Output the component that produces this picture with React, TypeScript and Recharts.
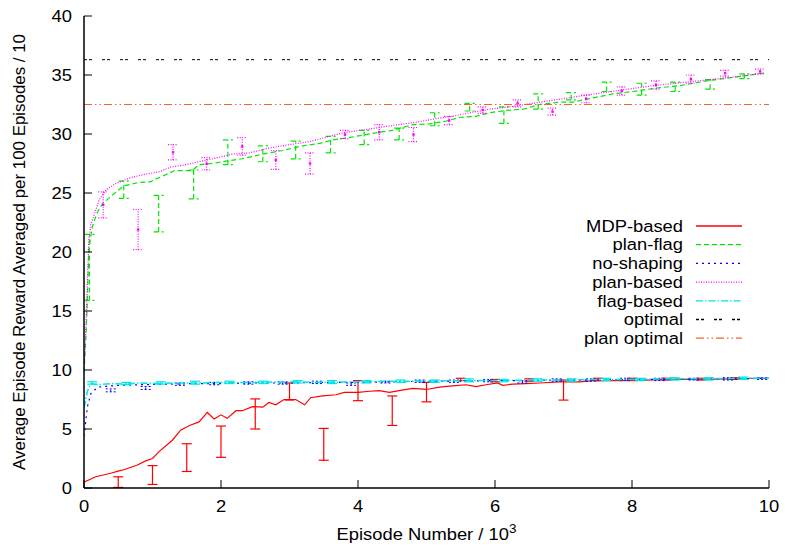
import {
  ComposedChart,
  Line,
  Scatter,
  ErrorBar,
  XAxis,
  YAxis,
  ReferenceLine,
  Label,
} from 'recharts'

// [episode / 10^3, reward]
const mdpBased = [
  [0, 0.5], [0.17, 0.95], [0.39, 1.25], [0.51, 1.45], [0.58, 1.55], [0.78, 1.95], [0.9, 2.3],
  [1.0, 2.5], [1.1, 3.1], [1.29, 4.05], [1.41, 4.9], [1.54, 5.3], [1.68, 5.6], [1.8, 6.4],
  [1.9, 5.85], [2.0, 6.2], [2.09, 5.9], [2.22, 6.55], [2.31, 6.55], [2.46, 6.9], [2.61, 6.85],
  [2.7, 7.25], [2.8, 7.05], [2.92, 7.5], [3.09, 7.5], [3.22, 7.05], [3.31, 7.65], [3.48, 7.8],
  [3.68, 7.9], [3.8, 8.1], [4.0, 8.1], [4.17, 8.2], [4.31, 8.25], [4.46, 8.1], [4.6, 8.25],
  [4.8, 8.45], [5.0, 8.35], [5.19, 8.55], [5.38, 8.65], [5.58, 8.75], [5.72, 8.6], [5.87, 8.75],
  [6.04, 8.9], [6.11, 8.7], [6.26, 8.8], [6.45, 8.85], [6.65, 8.9], [6.94, 9.0], [7.24, 9.0],
  [7.43, 9.1], [7.8, 9.1], [8.2, 9.15], [8.6, 9.2], [9.0, 9.2], [9.4, 9.25], [9.8, 9.3], [10, 9.3],
]
const planFlag = [
  [0, 9.8], [0.03, 13], [0.05, 16], [0.07, 20.2], [0.12, 22.1], [0.19, 23.3], [0.27, 24.1],
  [0.41, 24.8], [0.58, 25.6], [0.8, 25.9], [0.97, 25.95], [1.05, 26.2], [1.14, 26.4],
  [1.32, 26.9], [1.58, 26.9], [1.68, 27.4], [1.88, 27.5], [2.07, 27.7], [2.31, 27.9],
  [2.61, 28.3], [2.9, 28.6], [3.19, 29.0], [3.44, 29.2], [3.63, 29.5], [3.87, 29.7],
  [4.07, 29.9], [4.26, 30.1], [4.5, 30.3], [4.8, 30.8], [5.04, 30.85], [5.29, 31.1],
  [5.48, 31.4], [5.72, 31.5], [5.92, 31.8], [6.16, 32.0], [6.41, 32.1], [6.65, 32.5],
  [6.94, 32.7], [7.14, 32.7], [7.38, 33.0], [7.72, 33.4], [8.01, 33.6], [8.36, 33.9],
  [8.7, 34.1], [9.09, 34.5], [9.48, 34.8], [9.97, 35.2],
]
const noShaping = [
  [0, 4.4], [0.05, 6.9], [0.1, 8.0], [0.2, 8.55], [0.3, 8.6], [0.5, 8.7], [0.8, 8.75],
  [1.2, 8.8], [1.6, 8.85], [2.0, 8.85], [2.5, 8.9], [3.0, 8.9], [3.5, 8.95], [4.0, 8.95],
  [4.5, 9.0], [5.0, 9.05], [5.5, 9.05], [6.0, 9.1], [6.5, 9.1], [7.0, 9.15], [7.5, 9.15],
  [8.0, 9.2], [8.5, 9.2], [9.0, 9.25], [9.5, 9.25], [10, 9.3],
]
const planBased = [
  [0, 10], [0.03, 14], [0.05, 17.5], [0.07, 21], [0.1, 22.3], [0.15, 23.2], [0.22, 24.4],
  [0.32, 25.25], [0.46, 25.8], [0.68, 26.3], [0.9, 26.6], [1.1, 26.8], [1.27, 27.2],
  [1.49, 27.4], [1.68, 27.65], [1.88, 27.9], [2.17, 28.3], [2.41, 28.4], [2.7, 28.8],
  [3.0, 29.1], [3.29, 29.35], [3.58, 29.8], [3.78, 30.1], [4.02, 30.3], [4.31, 30.55],
  [4.6, 30.8], [4.85, 31.0], [5.14, 31.3], [5.38, 31.5], [5.63, 31.8], [5.92, 32.1],
  [6.21, 32.3], [6.55, 32.6], [6.89, 32.9], [7.33, 33.3], [7.82, 33.7], [8.31, 34.1],
  [8.8, 34.4], [9.28, 34.7], [9.87, 35.1],
]
const flagBased = [
  [0, 6.8], [0.05, 8.2], [0.1, 8.85], [0.2, 8.75], [0.4, 8.85], [0.6, 8.8], [0.8, 8.9],
  [1.0, 8.85], [1.3, 8.9], [1.7, 8.9], [2.0, 8.95], [2.5, 8.95], [3.0, 9.0], [3.5, 8.95],
  [4.0, 9.0], [4.5, 9.05], [5.0, 9.05], [5.5, 9.1], [6.0, 9.1], [6.5, 9.15], [7.0, 9.15],
  [7.5, 9.2], [8.0, 9.2], [8.5, 9.25], [9.0, 9.25], [9.5, 9.3], [10, 9.3],
]

// error bar ranges: [x, low, high]
const mdpErr = [
  [0.5, 0.05, 0.95], [1.0, 0.3, 1.9], [1.5, 1.4, 3.75], [2.0, 2.6, 5.25], [2.5, 5.0, 7.55],
  [3.0, 7.45, 8.9], [3.5, 2.35, 5.05], [4.0, 7.4, 9.1], [4.5, 5.3, 7.8], [5.0, 7.3, 8.95],
  [5.5, 9.1, 9.3], [6.0, 9.0, 9.2], [6.5, 9.05, 9.25], [7.0, 7.45, 9.15], [7.5, 9.1, 9.3],
  [8.0, 9.1, 9.3], [8.5, 9.15, 9.3], [9.0, 9.15, 9.3], [9.5, 9.2, 9.35],
]
const planFlagErr = [
  [0.08, 15.9, 21.5], [0.58, 24.55, 26.0], [1.09, 21.7, 24.8], [1.6, 24.5, 26.95],
  [2.1, 27.4, 29.5], [2.61, 27.65, 29.0], [3.09, 27.9, 29.4], [3.6, 28.4, 29.8],
  [4.09, 29.1, 30.3], [4.6, 29.5, 30.5], [5.12, 30.7, 31.8], [5.63, 31.95, 32.6],
  [6.13, 30.9, 32.3], [6.63, 32.1, 33.4], [7.11, 32.9, 33.5], [7.63, 33.6, 34.4],
  [8.14, 33.3, 34.3], [8.63, 33.6, 34.4], [9.14, 33.8, 34.6], [9.64, 34.7, 35.1],
]
const planBasedErr = [
  [0.28, 22.9, 25.1], [0.79, 20.2, 23.6], [1.3, 27.8, 29.1], [1.79, 26.95, 28.0],
  [2.31, 28.2, 29.7], [2.8, 27.0, 28.6], [3.3, 26.6, 28.4], [3.81, 29.6, 30.3],
  [4.31, 29.5, 30.8], [4.81, 29.35, 30.55], [5.33, 30.8, 31.5], [5.82, 31.75, 32.3],
  [6.33, 32.3, 32.9], [6.84, 31.6, 32.2], [7.33, 32.65, 33.3], [7.85, 33.3, 34.0],
  [8.35, 33.8, 34.5], [8.86, 34.3, 35.0], [9.36, 34.9, 35.4], [9.87, 35.1, 35.5],
]
const noShapingErr = [
  [0.39, 8.15, 8.4], [0.9, 8.35, 8.6], [1.4, 8.7, 8.9], [1.9, 8.75, 8.95], [2.4, 8.8, 9.0],
  [2.9, 8.8, 9.0], [3.4, 8.85, 9.05], [3.9, 8.7, 8.9], [4.4, 8.9, 9.05], [4.9, 8.95, 9.15],
  [5.4, 8.95, 9.15], [5.9, 9.0, 9.2], [6.4, 8.9, 9.1], [6.9, 9.05, 9.25], [7.4, 9.05, 9.25],
  [7.9, 9.1, 9.3], [8.4, 9.1, 9.3], [8.9, 9.15, 9.3], [9.4, 9.15, 9.35], [9.9, 9.2, 9.35],
]
const flagBasedErr = [
  [0.12, 8.8, 9.0], [0.62, 8.75, 8.95], [1.12, 8.8, 9.0], [1.62, 8.8, 9.05], [2.12, 8.85, 9.05],
  [2.62, 8.85, 9.05], [3.12, 8.9, 9.1], [3.62, 8.85, 9.1], [4.12, 8.9, 9.1], [4.62, 8.95, 9.15],
  [5.12, 8.95, 9.15], [5.62, 9.0, 9.25], [6.12, 9.0, 9.2], [6.62, 9.05, 9.25], [7.12, 9.05, 9.25],
  [7.62, 9.1, 9.3], [8.12, 9.1, 9.3], [8.62, 9.15, 9.35], [9.12, 9.15, 9.35], [9.62, 9.2, 9.4],
]

const optimal = 36.3
const planOptimal = 32.5
const xTicks = [0, 2, 4, 6, 8, 10]
const yTicks = [0, 5, 10, 15, 20, 25, 30, 35, 40]

const FONT = '"Liberation Sans", Arial, sans-serif'
const FS = 17
const STRETCH = 1.08 // reference text is a bit wider than plain Arial

const toPoints = (rows: number[][]) => rows.map(([x, y]) => ({ x, y }))
const toBars = (rows: number[][]) =>
  rows.map(([x, lo, hi]) => ({ x, y: (lo + hi) / 2, err: [(hi - lo) / 2, (hi - lo) / 2] }))

const legendItems = [
  { name: 'MDP-based', stroke: '#ff0000', dash: undefined },
  { name: 'plan-flag', stroke: '#00e600', dash: '5 3' },
  { name: 'no-shaping', stroke: '#0000ff', dash: '2 4' },
  { name: 'plan-based', stroke: '#ff00ff', dash: '1 1.5' },
  { name: 'flag-based', stroke: '#00e5e5', dash: '7 2 1.5 2' },
  { name: 'optimal', stroke: '#000000', dash: '3 2 3 10' },
  { name: 'plan optimal', stroke: '#f4632a', dash: '8 3 1.5 3 1.5 3' },
]

const noDot = () => <g />
const magentaDot = (p: any) => <rect x={p.cx - 1.2} y={p.cy - 1.2} width={2.4} height={2.4} fill="#ff00ff" />

function WideText({ x, y, anchor, baseline, dy, children }: any) {
  return (
    <g transform={`translate(${x},${y}) scale(${STRETCH},1)`}>
      <text x={0} y={0} dy={dy} textAnchor={anchor} dominantBaseline={baseline} fontFamily={FONT} fontSize={FS} fill="#000">
        {children}
      </text>
    </g>
  )
}

const XTick = ({ x, y, payload }: any) => (
  <WideText x={x} y={y} anchor="middle" dy="0.71em">{payload.value}</WideText>
)
const YTick = ({ x, y, payload }: any) => (
  <WideText x={x} y={y} anchor="end" baseline="central">{payload.value}</WideText>
)

function XLabel({ viewBox }: any) {
  const cx = viewBox.x + viewBox.width / 2
  return (
    <WideText x={cx} y={540} anchor="middle">
      Episode Number / 10
      <tspan dy={-7} fontSize={12.5}>3</tspan>
    </WideText>
  )
}

function YLabel({ viewBox }: any) {
  const cy = viewBox.y + viewBox.height / 2
  return (
    <text
      x={19}
      y={cy}
      transform={`rotate(-90 19 ${cy})`}
      textAnchor="middle"
      dominantBaseline="central"
      fontFamily={FONT}
      fontSize={16.9}
      fill="#000"
    >
      Average Episode Reward Averaged per 100 Episodes / 10
    </text>
  )
}

export default function App() {
  const axisLine = { stroke: '#000', strokeWidth: 1.5 }
  const tickLine = { stroke: '#000', strokeWidth: 1 }

  return (
    <div style={{ position: 'absolute', left: 0, top: 0, width: 785, height: 545, background: '#fff' }}>
      <ComposedChart width={785} height={545} margin={{ top: 16, right: 16, bottom: 27, left: 0 }}>
        <XAxis
          xAxisId="b"
          dataKey="x"
          type="number"
          domain={[0, 10]}
          ticks={xTicks}
          allowDataOverflow
          height={30}
          tick={<XTick />}
          tickSize={-8}
          tickMargin={20}
          axisLine={axisLine}
          tickLine={tickLine}
        >
          <Label content={<XLabel />} />
        </XAxis>
        <XAxis
          xAxisId="t"
          orientation="top"
          dataKey="x"
          type="number"
          domain={[0, 10]}
          ticks={xTicks}
          allowDataOverflow
          height={0}
          tick={false}
          tickSize={-8}
          axisLine={axisLine}
          tickLine={tickLine}
        />
        <YAxis
          yAxisId="l"
          type="number"
          domain={[0, 40]}
          ticks={yTicks}
          allowDataOverflow
          width={84}
          tick={<YTick />}
          tickSize={-8}
          tickMargin={20}
          axisLine={axisLine}
          tickLine={tickLine}
        >
          <Label content={<YLabel />} />
        </YAxis>
        <YAxis
          yAxisId="r"
          orientation="right"
          type="number"
          domain={[0, 40]}
          ticks={yTicks}
          allowDataOverflow
          width={0}
          tick={false}
          tickSize={-8}
          axisLine={axisLine}
          tickLine={tickLine}
        />

        <Line xAxisId="b" yAxisId="l" data={toPoints(mdpBased)} dataKey="y" stroke="#ff0000" strokeWidth={1.2} dot={false} isAnimationActive={false} />
        <Scatter xAxisId="b" yAxisId="l" data={toBars(mdpErr)} dataKey="y" shape={noDot} isAnimationActive={false}>
          <ErrorBar dataKey="err" direction="y" width={5} stroke="#ff0000" strokeWidth={1.2} isAnimationActive={false} />
        </Scatter>

        <Line xAxisId="b" yAxisId="l" data={toPoints(planFlag)} dataKey="y" stroke="#00e600" strokeWidth={1.2} strokeDasharray="5 3" dot={false} isAnimationActive={false} />
        <Scatter xAxisId="b" yAxisId="l" data={toBars(planFlagErr)} dataKey="y" shape={noDot} isAnimationActive={false}>
          <ErrorBar dataKey="err" direction="y" width={5} stroke="#00e600" strokeWidth={1.2} strokeDasharray="5 3" isAnimationActive={false} />
        </Scatter>

        <Line xAxisId="b" yAxisId="l" data={toPoints(noShaping)} dataKey="y" stroke="#0000ff" strokeWidth={1.2} strokeDasharray="2 4" dot={false} isAnimationActive={false} />
        <Scatter xAxisId="b" yAxisId="l" data={toBars(noShapingErr)} dataKey="y" shape={noDot} isAnimationActive={false}>
          <ErrorBar dataKey="err" direction="y" width={5} stroke="#0000ff" strokeWidth={1} strokeDasharray="2 2" isAnimationActive={false} />
        </Scatter>

        <Line xAxisId="b" yAxisId="l" data={toPoints(planBased)} dataKey="y" stroke="#ff00ff" strokeWidth={1.2} strokeDasharray="1 1.5" dot={false} isAnimationActive={false} />
        <Scatter xAxisId="b" yAxisId="l" data={toBars(planBasedErr)} dataKey="y" shape={magentaDot} isAnimationActive={false}>
          <ErrorBar dataKey="err" direction="y" width={5} stroke="#ff00ff" strokeWidth={1.2} strokeDasharray="1 1.5" isAnimationActive={false} />
        </Scatter>

        <Line xAxisId="b" yAxisId="l" data={toPoints(flagBased)} dataKey="y" stroke="#00e5e5" strokeWidth={1.5} strokeDasharray="7 2 1.5 2" dot={false} isAnimationActive={false} />
        <Scatter xAxisId="b" yAxisId="l" data={toBars(flagBasedErr)} dataKey="y" shape={noDot} isAnimationActive={false}>
          <ErrorBar dataKey="err" direction="y" width={5} stroke="#00e5e5" strokeWidth={1.2} isAnimationActive={false} />
        </Scatter>

        <ReferenceLine xAxisId="b" yAxisId="l" y={optimal} stroke="#000" strokeWidth={1} strokeDasharray="3 2 3 10" />
        <ReferenceLine xAxisId="b" yAxisId="l" y={planOptimal} stroke="#f4632a" strokeWidth={1.2} strokeDasharray="8 3 1.5 3 1.5 3" />
      </ComposedChart>

      <svg width={785} height={545} style={{ position: 'absolute', left: 0, top: 0, pointerEvents: 'none' }}>
        {legendItems.map((item, i) => {
          const y = 226 + i * 18.7
          return (
            <g key={item.name}>
              <WideText x={683} y={y} anchor="end" baseline="central">{item.name}</WideText>
              <line x1={696} x2={742} y1={y} y2={y} stroke={item.stroke} strokeWidth={1.3} strokeDasharray={item.dash} />
            </g>
          )
        })}
      </svg>
    </div>
  )
}
